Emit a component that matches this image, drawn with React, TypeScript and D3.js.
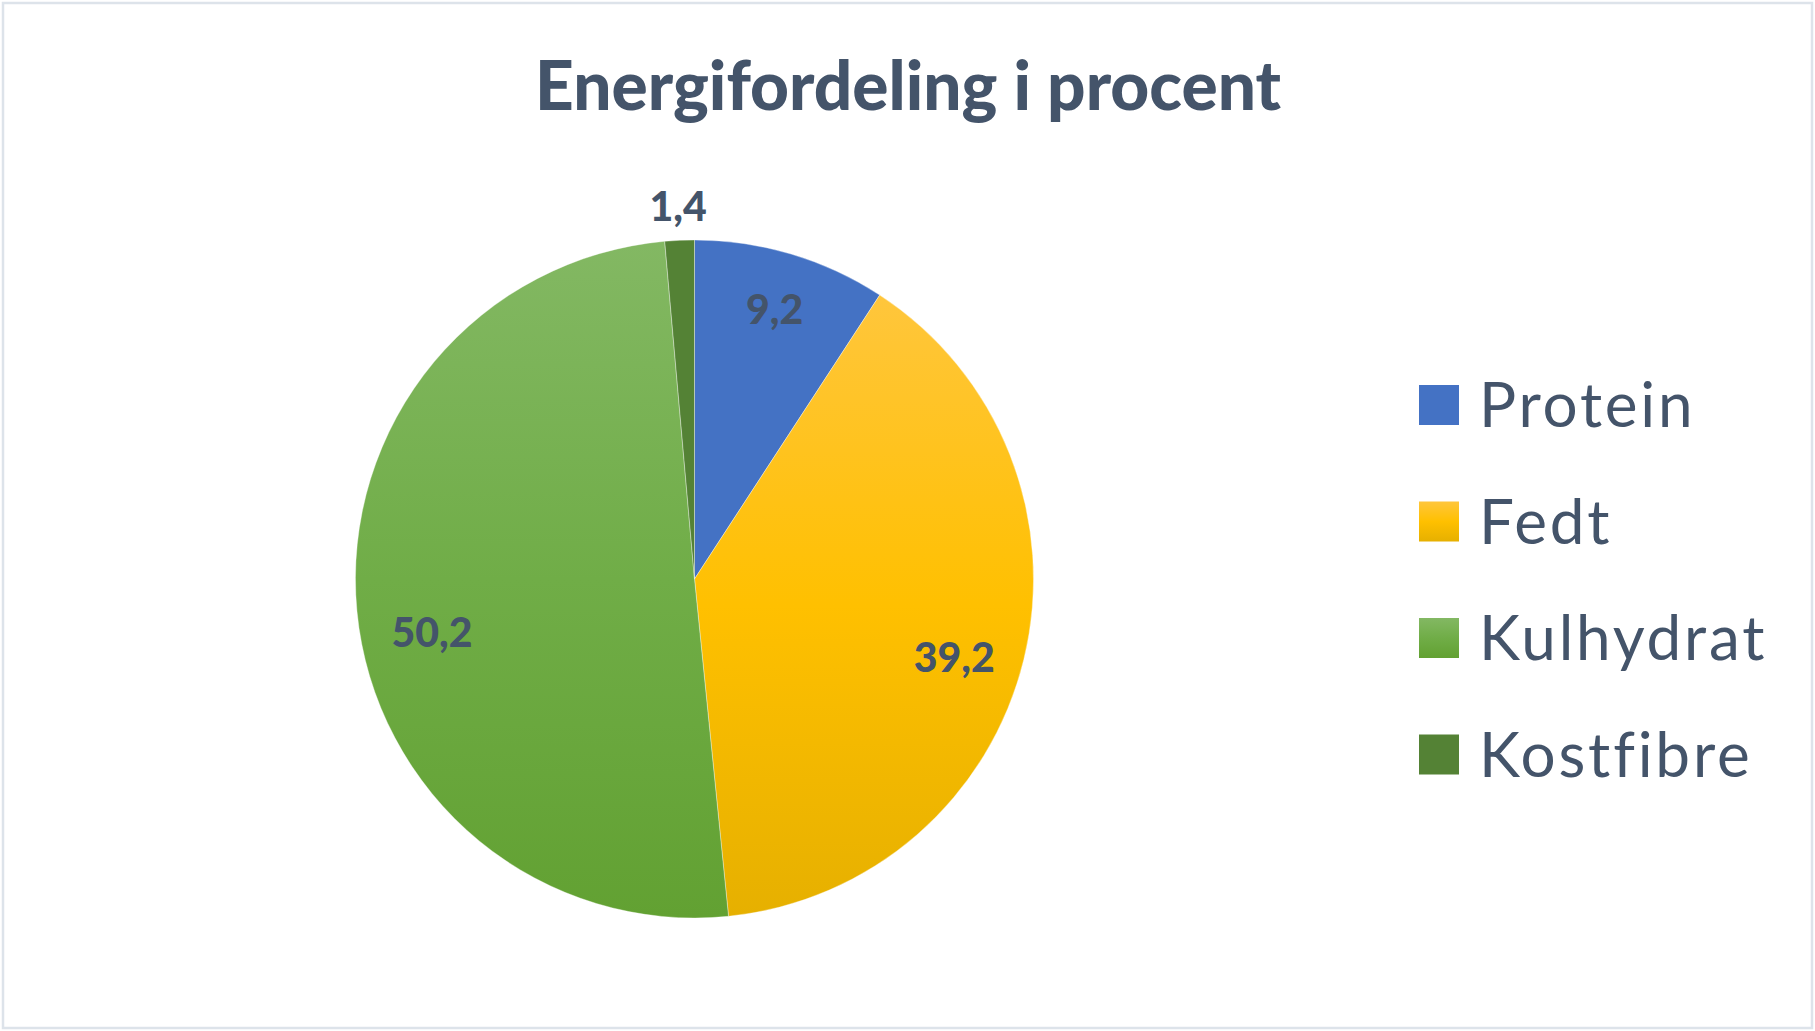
import React from "react";
import * as d3 from "d3";

const categories = ["Protein", "Fedt", "Kulhydrat", "Kostfibre"];
const values = [9.2, 39.2, 50.2, 1.4];
const valueLabels = ["9,2", "39,2", "50,2", "1,4"];
const title = "Energifordeling i procent";

const baseColors = ["#4472c4", "#ffc000", "#70ad47", "#548235"];
const gradTop = ["#4472c4", "#ffc63c", "#83b863", "#548235"];
const gradBottom = ["#4472c4", "#e6b000", "#62a132", "#548235"];

const W = 1815;
const H = 1031;
const TEXT = "#44546a";
const FONT = "Lato, 'Open Sans', sans-serif";

export default function App() {
  const cx = 694.5;
  const cy = 579;
  const r = 339;

  const pie = d3.pie<number>().sort(null).value((d) => d).startAngle(0).endAngle(2 * Math.PI);
  const arcs = pie(values);
  const arc = d3.arc<d3.PieArcDatum<number>>().innerRadius(0).outerRadius(r);

  // label placement (radial fraction and angular nudge in degrees), Excel best-fit style
  const labelRadius = [0.83, 0.8, 0.79, 1.1];
  const labelNudge = [0, 3, -6, 0];

  const legendX = 1419;
  const legendY0 = 385;
  const legendStep = 116.5;
  const sw = 40;

  return (
    <svg
      width={W}
      height={H}
      style={{ position: "absolute", left: 0, top: 0, background: "#fff" }}
      fontFamily={FONT}
    >
      <defs>
        {categories.map((c, i) => (
          <linearGradient key={c} id={`g${i}`} x1="0" y1="0" x2="0" y2="1">
            <stop offset="0" stopColor={gradTop[i]} />
            <stop offset="0.5" stopColor={baseColors[i]} />
            <stop offset="1" stopColor={gradBottom[i]} />
          </linearGradient>
        ))}
      </defs>
      <rect x={3} y={3} width={W - 6} height={H - 6} fill="#fff" stroke="#dde3ea" strokeWidth={2.5} />
      <text
        x={908}
        y={110}
        textAnchor="middle"
        fontSize={68}
        fontWeight={900}
        fill={TEXT}
        textLength={746}
        lengthAdjust="spacingAndGlyphs"
      >
        {title}
      </text>
      <g transform={`translate(${cx},${cy})`}>
        {arcs.map((a, i) => (
          <path key={categories[i]} d={arc(a) || ""} fill={`url(#g${i})`} stroke="#ffffff" strokeOpacity={0.35} strokeWidth={1} />
        ))}
        {arcs.map((a, i) => {
          const mid = (a.startAngle + a.endAngle) / 2 + (labelNudge[i] * Math.PI) / 180;
          const lr = labelRadius[i] * r;
          const x = Math.sin(mid) * lr;
          const y = -Math.cos(mid) * lr;
          return (
            <text
              key={`l${i}`}
              x={x}
              y={y}
              dy="0.36em"
              textAnchor="middle"
              fontSize={41}
              fontWeight={900}
              fill={TEXT}
            >
              {valueLabels[i]}
            </text>
          );
        })}
      </g>
      <g>
        {categories.map((c, i) => (
          <g key={c} transform={`translate(${legendX},${legendY0 + i * legendStep})`}>
            <rect width={sw} height={sw} fill={`url(#g${i})`} />
            <text x={60} y={sw / 2} dy="0.36em" fontSize={62} letterSpacing={2.8} fill={TEXT}>
              {c}
            </text>
          </g>
        ))}
      </g>
    </svg>
  );
}
